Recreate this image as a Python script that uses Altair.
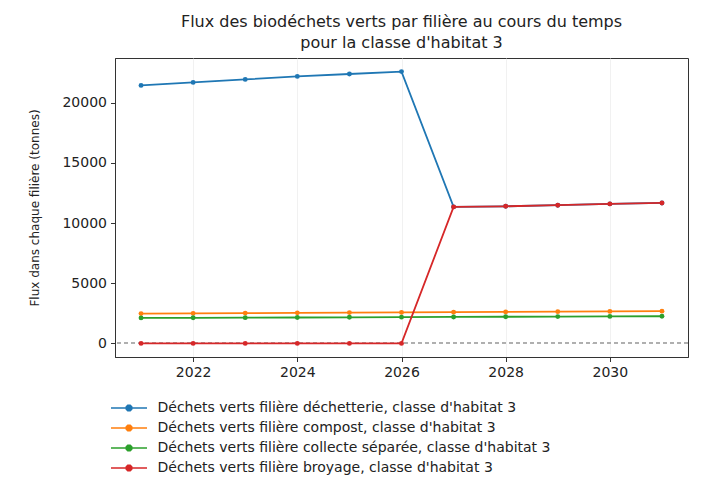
import altair as alt
import pandas as pd

years = [2021, 2022, 2023, 2024, 2025, 2026, 2027, 2028, 2029, 2030, 2031]
dechetterie = [21450, 21700, 21950, 22200, 22400, 22600, 11350, 11400, 11490, 11600, 11680]
compost = [2480, 2500, 2520, 2540, 2560, 2580, 2600, 2620, 2640, 2660, 2680]
collecte = [2120, 2130, 2140, 2155, 2170, 2185, 2200, 2215, 2230, 2245, 2260]
broyage = [0, 0, 0, 0, 0, 0, 11350, 11400, 11490, 11600, 11680]

names = [
    "Déchets verts filière déchetterie, classe d'habitat 3",
    "Déchets verts filière compost, classe d'habitat 3",
    "Déchets verts filière collecte séparée, classe d'habitat 3",
    "Déchets verts filière broyage, classe d'habitat 3",
]
colors = ["#1f77b4", "#ff7f0e", "#2ca02c", "#d62728"]
series_values = [dechetterie, compost, collecte, broyage]

rows = []
for name, vals in zip(names, series_values):
    for yr, v in zip(years, vals):
        rows.append({"annee": yr, "flux": v, "serie": name})
df = pd.DataFrame(rows)

FONT = "DejaVu Sans"

x_enc = alt.X(
    "annee:Q",
    scale=alt.Scale(domain=[2020.5, 2031.5], nice=False, zero=False),
    axis=alt.Axis(values=[2022, 2024, 2026, 2028, 2030], format="d", title=None),
)
y_enc = alt.Y(
    "flux:Q",
    scale=alt.Scale(domain=[-1130, 23730], nice=False, zero=False),
    axis=alt.Axis(values=[0, 5000, 10000, 15000, 20000], format="d",
                  title="Flux dans chaque filière (tonnes)"),
)

legend = alt.Legend(
    title=None,
    orient="none",
    legendX=7,
    legendY=343,
    direction="vertical",
    symbolType="M-3,0H3M-0.45,-0.2L-0.2,-0.45L0.2,-0.45L0.45,-0.2L0.45,0.2L0.2,0.45L-0.2,0.45L-0.45,0.2Z",
    symbolSize=144,
    symbolStrokeWidth=1.6,
    labelOffset=21.5,
    rowPadding=6,
    labelFont=FONT,
    labelFontSize=14,
    labelColor="#222222",
    padding=0,
    labelLimit=650,
)

color_enc = alt.Color(
    "serie:N",
    scale=alt.Scale(domain=names, range=colors),
    legend=legend,
    sort=names,
)

base = alt.Chart(df)

zero_rule = alt.Chart(df).mark_rule(
    color="#b0b0b0", strokeDash=[4, 3], strokeWidth=0.8
).encode(y=alt.datum(0))

layers = [zero_rule]
for name in names:
    layers.append(
        base.transform_filter(alt.datum.serie == name)
        .mark_line(strokeWidth=1.8, point=alt.OverlayMarkDef(filled=True, size=24))
        .encode(x=x_enc, y=y_enc, color=color_enc)
    )

chart = (
    alt.layer(*layers)
    .properties(
        width=573,
        height=299,
        padding={"left": 107, "top": 50, "right": 5, "bottom": 120},
        autosize=alt.AutoSizeParams(type="none"),
        title=alt.Title(
            ["Flux des biodéchets verts par filière au cours du temps",
             "pour la classe d'habitat 3"],
            font=FONT, fontSize=16, fontWeight="normal", color="#222222",
            anchor="middle", offset=7, lineHeight=21,
        ),
    )
    .configure_view(stroke="#333333", strokeWidth=1)
    .configure_axis(
        labelFont=FONT, labelFontSize=14, labelColor="#222222",
        titleFont=FONT, titleFontSize=12, titleFontWeight="normal", titleColor="#222222",
        tickColor="#333333", tickSize=4.5, domainColor="#333333",
        gridColor="#ededed", gridWidth=0.8, labelPadding=4,
    )
    .configure_axisY(titlePadding=20)
)

chart.save("out.html", embed_options={"renderer": "svg", "actions": False})
